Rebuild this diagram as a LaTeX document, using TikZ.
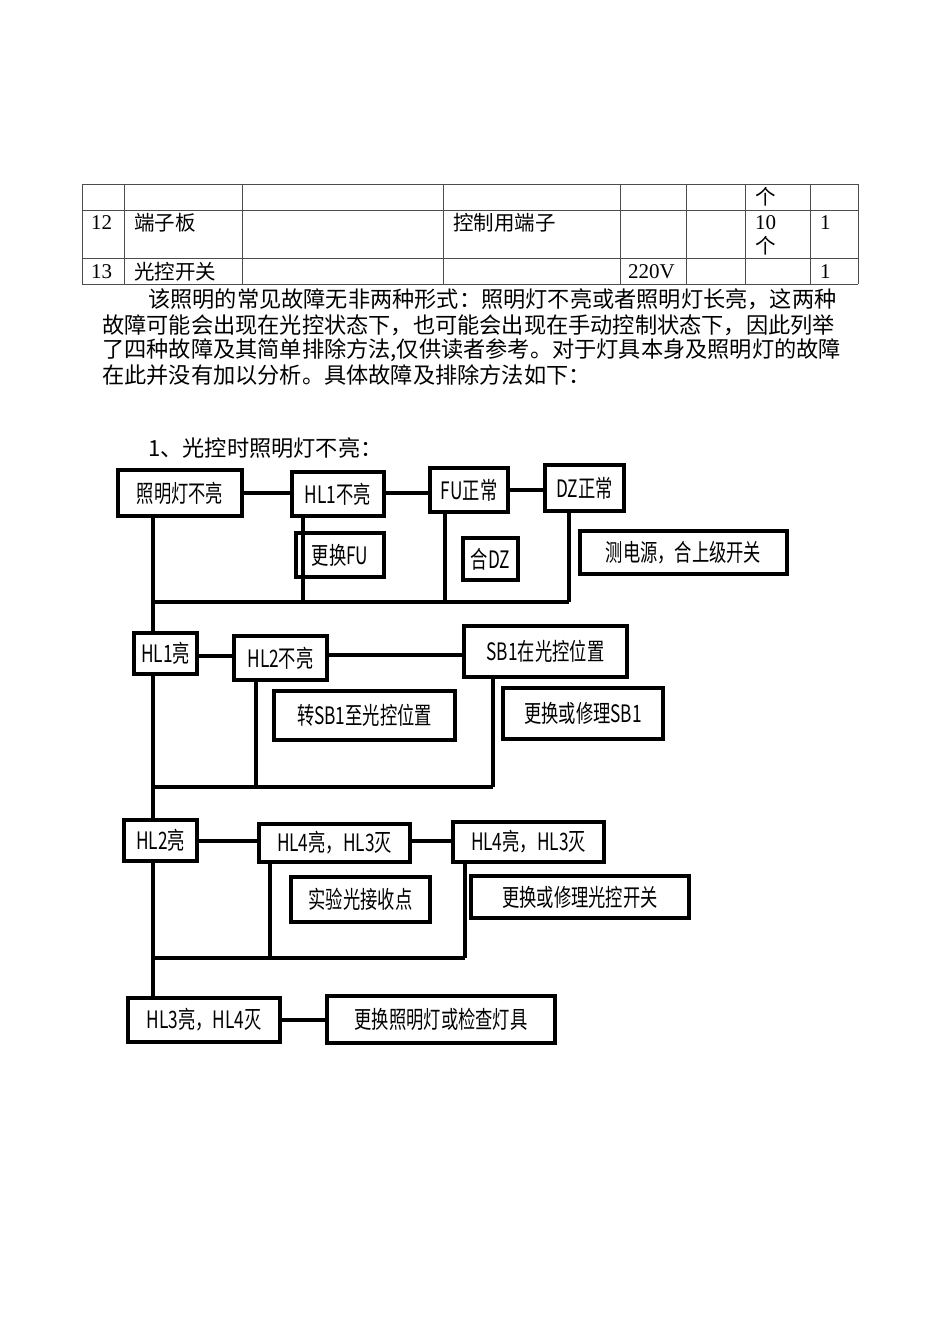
\documentclass[tikz,border=0pt]{standalone}
\usepackage{fontspec}
\setmainfont{Liberation Serif}
\newfontfamily\cjk{Noto Sans CJK SC}
\newfontfamily\cjkb{Noto Sans CJK SC}
\usepackage{graphicx}
\newcommand{\bx}[6]{\node[bx,minimum width={#4-#2},minimum height={#5-#3}] (#1) at ({(#2+#4)/2},{(#3+#5)/2}) {\scalebox{0.72}[1]{#6}};}
\begin{document}
\begin{tikzpicture}[x=1pt,y=-1pt,
  bx/.style={draw,line width=3.2pt,inner sep=0pt,font=\cjkb\fontsize{24}{24}\selectfont},
  ln/.style={line width=3.2pt},
  tb/.style={draw=black!70,line width=0.9pt},
  tt/.style={anchor=west,inner sep=0pt,font=\cjk\fontsize{20.5}{20.5}\selectfont},
  nt/.style={anchor=west,inner sep=0pt,font=\fontsize{21}{21}\selectfont},
  pt/.style={anchor=west,inner sep=0pt,font=\cjk\fontsize{22.2}{22.2}\selectfont}]
\useasboundingbox[fill=white] (0,0) rectangle (950,1344);
% table
\foreach \y in {184,210,258,284} \draw[tb] (82,\y) -- (858,\y);
\foreach \x in {82,124,242,443,620,686,745,810,858} \draw[tb] (\x,184) -- (\x,284);
\node[tt] (t1) at (755,197) {个};
\node[nt] (t2) at (91,223) {12};
\node[tt] (t3) at (134,223) {端子板};
\node[tt] (t4) at (453,223) {控制用端子};
\node[nt] (t5) at (755,223) {10};
\node[tt] (t6) at (755,246) {个};
\node[nt] (t7) at (820,223) {1};
\node[nt] (t8) at (91,272) {13};
\node[tt] (t9) at (134,272) {光控开关};
\node[nt] (t10) at (628,272) {220V};
\node[nt] (t11) at (820,272) {1};
% paragraph
\node[pt] (p1) at (148,299) {该照明的常见故障无非两种形式：照明灯不亮或者照明灯长亮，这两种};
\node[pt] (p2) at (102,325) {故障可能会出现在光控状态下，也可能会出现在手动控制状态下，因此列举};
\node[pt] (p3) at (102,350) {了四种故障及其简单排除方法,仅供读者参考。对于灯具本身及照明灯的故障};
\node[pt] (p4) at (102,375) {在此并没有加以分析。具体故障及排除方法如下：};
\node[pt] (h1) at (148,448) {1、光控时照明灯不亮：};
% boxes
\bx{b1}{118}{470}{242}{516}{照明灯不亮}
\bx{b2}{292}{472}{384}{516}{HL1不亮}
\bx{b3}{430}{468}{508}{512}{FU正常}
\bx{b4}{545}{465}{624}{511}{DZ正常}
\bx{b5}{296}{533}{384}{577}{更换FU}
\bx{b6}{463}{538}{518}{580}{合DZ}
\bx{b7}{580}{531}{787}{574}{测电源，合上级开关}
\bx{c1}{134}{633}{197}{674}{HL1亮}
\bx{c2}{234}{636}{327}{680}{HL2不亮}
\bx{c3}{464}{626}{627}{677}{SB1在光控位置}
\bx{c4}{274}{691}{455}{740}{转SB1至光控位置}
\bx{c5}{503}{688}{663}{739}{更换或修理SB1}
\bx{d1}{124}{820}{197}{861}{HL2亮}
\bx{d2}{259}{824}{410}{862}{HL4亮，HL3灭}
\bx{d3}{453}{822}{604}{862}{HL4亮，HL3灭}
\bx{d4}{291}{877}{430}{922}{实验光接收点}
\bx{d5}{471}{876}{689}{918}{更换或修理光控开关}
\bx{e1}{128}{998}{280}{1042}{HL3亮，HL4灭}
\bx{e2}{327}{996}{555}{1043}{更换照明灯或检查灯具}
% junctions
\coordinate (j1) at (153,602);
\coordinate (j2) at (153,787);
\coordinate (j3) at (153,958);
% connectors
\draw[ln] (b1.east |- 0,493) -- (b2.west |- 0,493);
\draw[ln] (b2.east |- 0,493) -- (b3.west |- 0,493);
\draw[ln] (b3.east |- 0,490) -- (b4.west |- 0,490);
\draw[ln] (c1.east |- 0,656) -- (c2.west |- 0,656);
\draw[ln] (c2.east |- 0,655) -- (c3.west |- 0,655);
\draw[ln] (d1.east |- 0,841) -- (d2.west |- 0,841);
\draw[ln] (d2.east |- 0,841) -- (d3.west |- 0,841);
\draw[ln] (e1.east |- 0,1020) -- (e2.west |- 0,1020);
\draw[ln] (b1.south -| j1) -- (c1.north -| j1);
\draw[ln] (c1.south -| j1) -- (d1.north -| j1);
\draw[ln] (d1.south -| j1) -- (e1.north -| j1);
\draw[ln] (j1) -- (569,602);
\draw[ln] (b2.south -| 303,0) -- (303,602);
\draw[ln] (b3.south -| 445,0) -- (445,602);
\draw[ln] (b4.south -| 569,0) -- (569,602);
\draw[ln] (j2) -- (493,787);
\draw[ln] (c2.south -| 256,0) -- (256,787);
\draw[ln] (c3.south -| 493,0) -- (493,787);
\draw[ln] (j3) -- (465,958);
\draw[ln] (d2.south -| 270,0) -- (270,958);
\draw[ln] (d3.south -| 465,0) -- (465,958);
\end{tikzpicture}
\end{document}
